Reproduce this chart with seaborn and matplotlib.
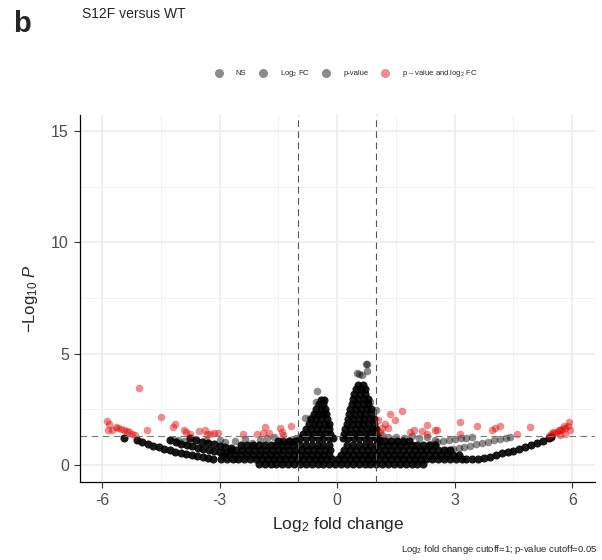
import numpy as np
import pandas as pd
import matplotlib
matplotlib.use("Agg")
import matplotlib.pyplot as plt
from matplotlib.lines import Line2D
from matplotlib.ticker import MultipleLocator
import seaborn as sns

sns.set_style("ticks")
plt.rcParams['font.family'] = ['Liberation Sans', 'DejaVu Sans']
plt.rcParams['mathtext.fontset'] = 'custom'
plt.rcParams['mathtext.rm'] = 'Liberation Sans'
plt.rcParams['mathtext.it'] = 'Liberation Sans:italic'
plt.rcParams['axes.unicode_minus'] = False

# values: x = log2 fold change, y = -log10 p

# dense body of genes, one list of x per row height
body_heights = [0.05, 0.26, 0.47, 0.69, 0.91, 1.1]
body_x = [
    [-2.0, -1.85, -1.7, -1.55, -1.4, -1.25, -1.1, -0.95, -0.8, -0.65, -0.5, -0.35, -0.2, -0.05,
     0.1, 0.25, 0.4, 0.55, 0.7, 0.85, 1.0, 1.15, 1.3, 1.45, 1.6, 1.75, 1.9, 2.05, 2.2],
    [-2.97, -2.82, -2.67, -2.52, -2.37, -2.22, -2.07, -1.92, -1.77, -1.62, -1.47, -1.32, -1.17,
     -1.02, -0.87, -0.72, -0.57, -0.42, -0.27, -0.12, 0.03, 0.18, 0.33, 0.48, 0.63, 0.78, 0.93,
     1.08, 1.23, 1.38, 1.53, 1.68, 1.83, 1.98, 2.13, 2.28, 2.43, 2.58, 2.73, 2.88, 3.03, 3.18],
    [-2.9, -2.75, -2.6, -2.45, -2.3, -2.15, -2.0, -1.85, -1.7, -1.55, -1.4, -1.25, -1.1, -0.95,
     -0.8, -0.65, -0.5, -0.35, -0.2, 0.1, 0.25, 0.4, 0.55, 0.7, 0.85, 1.0, 1.15, 1.3, 1.45,
     1.6, 1.75, 1.9, 2.05, 2.2, 2.35, 2.5, 2.65, 2.8, 2.95, 3.1],
    [-2.72, -2.57, -2.42, -2.27, -2.12, -1.97, -1.82, -1.67, -1.52, -1.37, -1.22, -1.07, -0.92,
     -0.77, -0.62, -0.47, -0.32, -0.17, 0.18, 0.33, 0.48, 0.63, 0.78, 0.93, 1.08, 1.23, 1.38,
     1.53, 1.68, 1.83, 1.98, 2.13, 2.28, 2.43, 2.58, 2.73, 2.88],
    [-2.45, -2.3, -2.15, -2.0, -1.85, -1.7, -1.55, -1.4, -1.25, -1.1, -0.95, -0.8, -0.65, -0.5,
     -0.35, -0.2, 0.25, 0.4, 0.55, 0.7, 0.85, 1.0, 1.15, 1.3, 1.45, 1.6, 1.75, 1.9, 2.05, 2.2,
     2.35, 2.5],
    [-1.52, -1.37, -1.22, -1.07, 1.08, 1.23, 1.38, 1.53, 1.68, 1.83],
]

# the two spikes near zero
lpeak_heights = [1.2, 1.42, 1.64, 1.86, 2.08, 2.3, 2.52, 2.74, 2.92]
lpeak_x = [
    [-0.95, -0.8, -0.65, -0.5, -0.35, -0.2, -0.1],
    [-0.88, -0.74, -0.6, -0.46, -0.32, -0.17],
    [-0.8, -0.66, -0.52, -0.38, -0.22],
    [-0.73, -0.6, -0.46, -0.32, -0.22],
    [-0.66, -0.53, -0.4, -0.27],
    [-0.6, -0.48, -0.36, -0.28],
    [-0.53, -0.42, -0.32],
    [-0.45, -0.36],
    [-0.4, -0.33],
]
rpeak_heights = [1.2, 1.42, 1.64, 1.86, 2.08, 2.3, 2.52, 2.74, 2.96, 3.18, 3.4, 3.6]
rpeak_x = [
    [0.14, 0.28, 0.42, 0.56, 0.7, 0.84, 0.98, 1.08],
    [0.17, 0.31, 0.45, 0.59, 0.73, 0.87, 1.0],
    [0.2, 0.34, 0.48, 0.62, 0.76, 0.9, 1.0],
    [0.24, 0.38, 0.52, 0.66, 0.8, 0.94],
    [0.27, 0.41, 0.55, 0.69, 0.83, 0.93],
    [0.3, 0.44, 0.58, 0.72, 0.86],
    [0.34, 0.48, 0.62, 0.76, 0.87],
    [0.37, 0.51, 0.65, 0.8],
    [0.4, 0.54, 0.68, 0.8],
    [0.44, 0.58, 0.72],
    [0.48, 0.6, 0.72],
    [0.54, 0.66],
]

# curved tails of low-count genes
arc_x = [-5.45, -5.11, -4.97, -4.83, -4.69, -4.55, -4.41, -4.27, -4.13, -3.99, -3.85, -3.71,
         -3.57, -3.43, -3.29, -3.17,
         -4.26, -4.12, -3.98, -3.84, -3.7, -3.56, -3.42, -3.28, -3.14, -3.0, -2.86,
         -3.75, -3.6, -3.45, -3.3, -3.15, -3.0, -2.85, -2.7,
         3.3, 3.45, 3.6, 3.75, 3.9, 4.05, 4.2, 4.35, 4.5, 4.65, 4.8, 4.95, 5.1, 5.25, 5.4, 5.47]
arc_y = [1.24, 1.15, 1.05, 0.96, 0.88, 0.8, 0.73, 0.67, 0.61, 0.56, 0.5, 0.45,
         0.4, 0.36, 0.32, 0.3,
         1.12, 1.04, 0.97, 0.9, 0.84, 0.78, 0.73, 0.68, 0.63, 0.58, 0.54,
         1.2, 1.12, 1.05, 0.99, 0.93, 0.87, 0.82, 0.77,
         0.26, 0.28, 0.3, 0.34, 0.38, 0.46, 0.55, 0.6, 0.65, 0.71, 0.8, 0.9, 1.0, 1.08, 1.2, 1.28]

# loose grey points
sparse_x = [2.8, 2.95, 3.1, 3.25, 3.4, 3.55, 3.7, 3.85, 4.0, 4.15, 4.3, 4.42,
            2.4, 2.55, 2.7, 2.85, 3.0, 3.15, 3.3, 3.45,
            -4.18, -4.05, -3.9, -3.35, -2.99, -2.85, -2.6, -2.35, -2.18, -1.97, -1.8, -1.6,
            -1.2, -1.05,
            1.15, 1.3, 1.5, 1.7, 1.9, 2.1, 2.3, 2.5,
            -0.82, -0.69, -0.52, -0.54,
            0.5, 0.57, 0.64, 0.74, 0.75, 0.77, 0.84, 1.0]
sparse_y = [0.67, 0.72, 0.78, 0.83, 0.88, 0.93, 0.99, 1.05, 1.12, 1.18, 1.24, 1.28,
            0.97, 1.02, 1.07, 1.12, 1.17, 1.2, 1.24, 1.27,
            1.12, 1.15, 1.1, 1.15, 1.12, 1.05, 1.1, 1.18, 1.0, 1.12, 1.2, 1.25,
            1.15, 1.22,
            1.35, 1.28, 1.25, 1.22, 1.3, 1.2, 1.25, 1.15,
            2.1, 2.1, 3.34, 2.82,
            4.14, 4.09, 4.03, 4.53, 4.55, 4.23, 2.84, 2.47]

# significant by p-value and log2 FC
sig_x = [-5.65, -5.58, -5.51, -5.44, -5.37, -5.3, -5.23, -5.16,
         -5.88, -5.82, -5.84, -5.75, -5.05, -4.5, -4.86, -4.18, -4.14, -3.92, -3.86, -3.75,
         -3.52, -3.37, -3.33, -3.24, -3.13, -3.03, -2.41, -2.05, -1.84, -1.88, -1.74, -1.46,
         -1.41, -1.18, -1.37,
         1.05, 1.14, 1.23, 1.35, 1.48, 1.65, 1.31, 1.10, 1.86, 1.95, 2.16, 2.29, 2.5, 2.55,
         2.29, 3.14, 3.57, 3.14, 3.95, 4.03, 4.16, 4.59, 4.93,
         5.4, 5.47, 5.54, 5.61, 5.68, 5.75, 5.82, 5.9,
         5.52, 5.65, 5.78, 5.82, 5.91, 5.95, 5.69]
sig_y = [1.72, 1.68, 1.63, 1.58, 1.52, 1.47, 1.41, 1.35,
         1.99, 1.87, 1.57, 1.57, 3.45, 2.16, 1.6, 1.72, 1.84, 1.6, 1.5, 1.42,
         1.53, 1.57, 1.42, 1.42, 1.45, 1.45, 1.39, 1.42, 1.72, 1.45, 1.45, 1.65,
         1.5, 1.75, 1.35,
         2.02, 1.65, 1.87, 2.29, 2.02, 2.44, 1.69, 1.5, 1.5, 1.57, 1.54, 1.8, 1.6, 1.57,
         1.42, 1.92, 1.77, 1.38, 1.57, 1.69, 1.75, 1.42, 1.72,
         1.32, 1.38, 1.44, 1.5, 1.56, 1.62, 1.68, 1.75,
         1.5, 1.57, 1.75, 1.42, 1.95, 1.6, 1.35]

fc_cutoff = 1
p_cutoff = 0.05


def rows_to_frame(heights, xs):
    recs = [(x, h) for h, row in zip(heights, xs) for x in row]
    return pd.DataFrame(recs, columns=["lfc", "logp"])


dense = pd.concat([rows_to_frame(body_heights, body_x),
                   rows_to_frame(lpeak_heights, lpeak_x),
                   rows_to_frame(rpeak_heights, rpeak_x),
                   pd.DataFrame({"lfc": arc_x, "logp": arc_y})], ignore_index=True)
sparse = pd.DataFrame({"lfc": sparse_x, "logp": sparse_y})
sig = pd.DataFrame({"lfc": sig_x, "logp": sig_y})

fig = plt.figure(figsize=(6.02, 5.6), dpi=100)
ax = fig.add_axes([0.133, 0.139, 0.856, 0.656])

sns.scatterplot(data=dense, x="lfc", y="logp", color="black", alpha=0.9, s=34,
                linewidth=0, ax=ax, legend=False)
sns.scatterplot(data=sparse, x="lfc", y="logp", color="black", alpha=0.45, s=30,
                linewidth=0, ax=ax, legend=False)
sns.scatterplot(data=sig, x="lfc", y="logp", color="#E00000", alpha=0.45, s=30,
                linewidth=0, ax=ax, legend=False)

for v in [-fc_cutoff, fc_cutoff]:
    ax.axvline(v, color="#555555", lw=0.8, ls=(0, (6, 4)), zorder=1)
ax.axhline(-np.log10(p_cutoff), color="#777777", lw=0.8, ls=(0, (6, 4)), zorder=1)

ax.set_xlim(-6.56, 6.59)
ax.set_ylim(-0.76, 15.72)
ax.set_xticks([-6, -3, 0, 3, 6])
ax.set_yticks([0, 5, 10, 15])
ax.xaxis.set_minor_locator(MultipleLocator(1.5))
ax.yaxis.set_minor_locator(MultipleLocator(2.5))
ax.grid(which="major", color="#EBEBEB", lw=1.1)
ax.grid(which="minor", color="#F2F2F2", lw=0.7)
ax.set_axisbelow(True)
ax.tick_params(which="major", direction="out", length=4, width=0.8, color="#333333",
               labelcolor="#4D4D4D", labelsize=11.5, pad=4)
ax.tick_params(which="minor", length=0)
for side in ["top", "right"]:
    ax.spines[side].set_visible(False)
for side in ["left", "bottom"]:
    ax.spines[side].set_color("black")
    ax.spines[side].set_linewidth(0.9)

ax.set_xlabel("Log$_2$ fold change", fontsize=12.5)
ax.set_ylabel("$-$Log$_{10}$ $\\mathit{P}$", fontsize=12)
ax.xaxis.set_label_coords(0.5, -0.09)
ax.yaxis.set_label_coords(-0.078, 0.5)

fig.text(0.022, 0.943, "b", fontsize=21, fontweight="bold", va="baseline")
fig.text(0.136, 0.967, "S12F versus WT", fontsize=10, va="baseline")
fig.text(0.992, 0.018, "Log$_2$ fold change cutoff=1; p-value cutoff=0.05", fontsize=6.8,
         ha="right", va="center")

handles = [Line2D([], [], marker="o", ls="", color=c, alpha=0.45, markersize=6.5, mew=0)
           for c in ["black", "black", "black", "#E00000"]]
labels = ["NS", "Log$_2$ FC", "p-value", "p \u2013 value and log$_2$ FC"]
fig.legend(handles, labels, loc="center", bbox_to_anchor=(0.575, 0.868), ncol=4,
           frameon=False, fontsize=5.5, handletextpad=1.7, columnspacing=1.7,
           handlelength=1.0)

fig.savefig("out.png", dpi=100)
